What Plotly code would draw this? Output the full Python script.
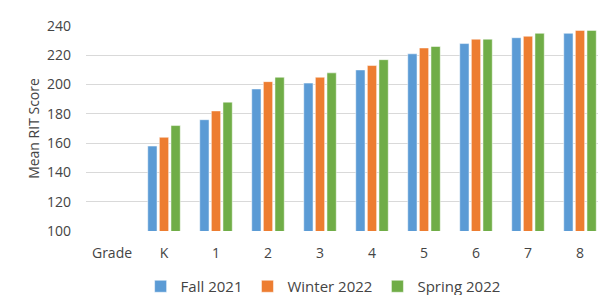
import plotly.graph_objects as go

categories = ["Grade", "K", "1", "2", "3", "4", "5", "6", "7", "8"]
grades = ["K", "1", "2", "3", "4", "5", "6", "7", "8"]
fall_2021 = [158, 176, 197, 201, 210, 221, 228, 232, 235]
winter_2022 = [164, 182, 202, 205, 213, 225, 231, 233, 237]
spring_2022 = [172, 188, 205, 208, 217, 226, 231, 235, 237]
y_ticks = [100, 120, 140, 160, 180, 200, 220, 240]

series = [
    ("Fall 2021", fall_2021, "#5B9BD5"),
    ("Winter 2022", winter_2022, "#ED7D31"),
    ("Spring 2022", spring_2022, "#70AD47"),
]

font = dict(family="Open Sans", size=14, color="#444444")
legend_font = dict(family="Open Sans", size=15, color="#444444")

fig = go.Figure()
for name, vals, color in series:
    fig.add_trace(go.Bar(
        name=name, x=grades, y=vals,
        marker=dict(color=color, line=dict(color="white", width=0.5)),
    ))

fig.update_layout(
    width=606, height=295,
    margin=dict(l=78, r=8, t=13, b=68),
    paper_bgcolor="white", plot_bgcolor="white",
    font=font,
    barmode="group", bargap=0.33, bargroupgap=0.2,
    showlegend=True,
    legend=dict(orientation="h", xref="container", yref="container",
                x=0.52, xanchor="center", y=0.0, yanchor="bottom",
                font=legend_font, itemwidth=30, traceorder="normal"),
    xaxis=dict(type="category", categoryorder="array", categoryarray=categories,
               range=[-0.5, 9.5], showgrid=False, showline=False, zeroline=False,
               ticks="", ticklabelstandoff=12, tickfont=font),
    yaxis=dict(range=[100, 240], tickvals=y_ticks, showgrid=True,
               gridcolor="#D9D9D9", gridwidth=1, zeroline=False, showline=False,
               ticks="", ticklabelstandoff=14, tickfont=font,
               title=dict(text="Mean RIT Score", font=font, standoff=4)),
)

fig.write_html("out.html")
